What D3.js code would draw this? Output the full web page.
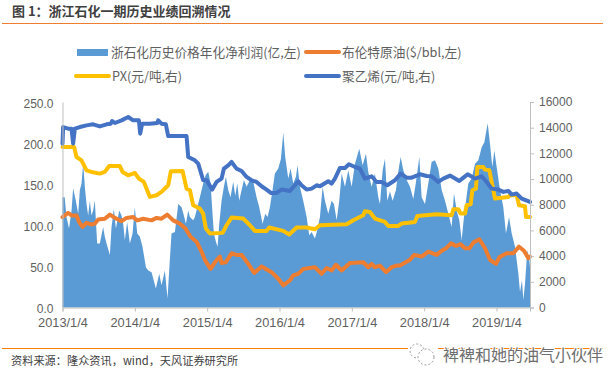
<!DOCTYPE html>
<html>
<head>
<meta charset="utf-8">
<script src="https://cdn.jsdelivr.net/npm/d3@7"></script>
<style>
  html, body { margin: 0; padding: 0; background: #fff; }
  text { font-family: "Liberation Sans", "Noto Sans CJK SC", sans-serif; }
  .cn { font-family: "Noto Sans CJK SC", sans-serif; }
</style>
</head>
<body>
<svg width="611" height="382"></svg>
<script>
// decimal years + values
const profitYears = [2013,2013.03,2013.055,2013.09,2013.125,2013.147,2013.184,2013.217,2013.24,2013.263,2013.286,2013.309,2013.332,2013.355,2013.378,2013.4,2013.424,2013.447,2013.479,2013.516,2013.539,2013.562,2013.585,2013.609,2013.655,2013.678,2013.71,2013.738,2013.784,2013.816,2013.839,2013.862,2013.894,2013.931,2013.968,2014,2014.033,2014.07,2014.106,2014.153,2014.185,2014.231,2014.291,2014.337,2014.369,2014.415,2014.452,2014.484,2014.507,2014.554,2014.6,2014.646,2014.678,2014.706,2014.738,2014.761,2014.807,2014.83,2014.853,2014.899,2014.945,2014.978,2015.015,2015.047,2015.074,2015.093,2015.121,2015.144,2015.167,2015.199,2015.231,2015.259,2015.291,2015.323,2015.36,2015.388,2015.416,2015.443,2015.476,2015.508,2015.545,2015.591,2015.637,2015.683,2015.72,2015.766,2015.803,2015.835,2015.867,2015.904,2015.936,2015.983,2016.02,2016.052,2016.079,2016.121,2016.153,2016.19,2016.227,2016.25,2016.282,2016.328,2016.375,2016.411,2016.444,2016.49,2016.522,2016.559,2016.596,2016.628,2016.674,2016.72,2016.753,2016.79,2016.826,2016.859,2016.905,2016.951,2016.997,2017.043,2017.103,2017.149,2017.195,2017.227,2017.273,2017.319,2017.366,2017.389,2017.426,2017.458,2017.49,2017.527,2017.564,2017.61,2017.642,2017.675,2017.712,2017.758,2017.804,2017.85,2017.887,2017.933,2017.965,2018.011,2018.057,2018.103,2018.149,2018.195,2018.242,2018.288,2018.334,2018.38,2018.412,2018.449,2018.486,2018.518,2018.555,2018.61,2018.656,2018.703,2018.749,2018.795,2018.832,2018.878,2018.91,2018.942,2018.97,2019.002,2019.048,2019.094,2019.131,2019.173,2019.21,2019.256,2019.302,2019.325,2019.352,2019.371,2019.394,2019.426,2019.454,2019.463];
const profitValues = [134,134,110,96,118,145,130,114,143,151,175,147,126,112,130,112,118,130,78,78,88,98,86,78,64,98,120,96,118,112,102,82,104,78,90,122,90,86,74,49,45,43,23,41,27,45,11,58,90,92,126,122,112,102,118,110,106,110,118,134,151,161,165,151,114,90,80,74,102,130,147,159,143,134,153,136,151,130,143,155,147,155,153,134,122,102,114,110,122,143,163,169,181,213,183,157,169,151,159,173,147,130,110,88,92,84,94,110,147,130,114,130,126,106,130,163,147,167,147,175,193,173,187,165,147,163,134,126,167,181,130,141,130,143,165,183,167,155,147,132,153,183,134,126,151,177,179,169,143,130,114,98,139,118,106,82,114,151,157,175,179,195,201,224,199,171,191,171,143,122,90,110,90,74,41,19,33,9,29,70,58,49];

const brentYears = [2013,2013.078,2013.125,2013.194,2013.23,2013.277,2013.332,2013.401,2013.447,2013.493,2013.585,2013.655,2013.724,2013.816,2013.885,2013.977,2014.033,2014.116,2014.231,2014.3,2014.369,2014.448,2014.53,2014.623,2014.701,2014.77,2014.853,2014.922,2014.968,2015.047,2015.107,2015.176,2015.199,2015.259,2015.337,2015.406,2015.476,2015.568,2015.651,2015.752,2015.89,2015.983,2016.052,2016.144,2016.19,2016.259,2016.328,2016.49,2016.582,2016.651,2016.72,2016.78,2016.859,2016.974,2017.158,2017.227,2017.273,2017.319,2017.389,2017.472,2017.55,2017.619,2017.665,2017.804,2017.859,2017.965,2018.057,2018.172,2018.242,2018.302,2018.371,2018.44,2018.504,2018.564,2018.624,2018.68,2018.763,2018.841,2018.91,2018.993,2019.039,2019.14,2019.233,2019.311,2019.38,2019.44,2019.463];
const brentValues = [110,115,112,112,104,98,103,101,102,107,108,113,109,105,109,110,106,108,106,109,108,113,106,102,96,86,80,68,58,47,55,62,54,55,66,64,64,53,42,50,43,35,27,33,39,41,47,49,41,48,45,52,45,54,55,49,53,49,51,43,49,51,51,58,64,62,68,64,69,72,78,75,77,72,72,79,83,72,58,53,61,66,66,74,69,60,62];

const pxYears = [2013,2013.161,2013.194,2013.263,2013.332,2013.401,2013.516,2013.585,2013.645,2013.793,2013.83,2013.908,2014,2014.056,2014.125,2014.208,2014.3,2014.369,2014.461,2014.498,2014.66,2014.715,2014.761,2014.807,2014.899,2014.945,2014.982,2015.038,2015.213,2015.268,2015.337,2015.499,2015.591,2015.66,2015.821,2015.858,2016.052,2016.135,2016.236,2016.375,2016.49,2016.559,2016.928,2017.02,2017.158,2017.181,2017.25,2017.319,2017.458,2017.504,2017.642,2017.688,2017.873,2017.905,2018.172,2018.38,2018.403,2018.472,2018.504,2018.564,2018.587,2018.643,2018.666,2018.716,2018.735,2018.818,2018.841,2018.901,2018.947,2018.979,2019.164,2019.187,2019.279,2019.311,2019.394,2019.408,2019.463];
const pxValues = [12500,12500,11720,11460,10680,10555,10425,10555,11020,11020,10555,10295,10475,10035,9775,8610,8740,9000,9515,10605,10630,9255,9125,7960,7700,7310,6145,5755,5810,6405,7000,6925,6405,5965,5965,6225,5965,5680,6225,6225,6095,6405,6480,6795,7180,7495,7440,6925,6665,6350,6350,6535,6665,7130,7260,7180,7650,7650,7310,7310,7960,8040,9125,9255,10940,10940,10735,10680,9385,8480,8610,8740,8740,7960,7880,7050,7050];

const peYears = [2013,2013.009,2013.078,2013.125,2013.147,2013.171,2013.24,2013.332,2013.424,2013.516,2013.609,2013.668,2013.687,2013.724,2013.816,2013.908,2013.977,2014.056,2014.074,2014.102,2014.208,2014.309,2014.323,2014.369,2014.429,2014.461,2014.715,2014.738,2014.83,2014.876,2014.945,2014.992,2015.07,2015.13,2015.199,2015.231,2015.291,2015.337,2015.406,2015.476,2015.545,2015.614,2015.683,2015.752,2015.821,2015.881,2015.96,2016.029,2016.144,2016.213,2016.259,2016.305,2016.375,2016.444,2016.513,2016.559,2016.674,2016.72,2016.766,2016.836,2016.905,2016.96,2017.043,2017.112,2017.181,2017.273,2017.342,2017.412,2017.49,2017.596,2017.675,2017.758,2017.827,2017.942,2018.034,2018.103,2018.195,2018.265,2018.357,2018.486,2018.601,2018.703,2018.795,2018.864,2018.933,2019.025,2019.094,2019.164,2019.21,2019.279,2019.348,2019.463];
const peValues = [12760,14050,13920,13920,12760,13920,14050,14180,14260,14100,14260,14310,14520,14365,14570,14830,14570,14570,13535,14310,14310,14365,14570,14310,14260,13350,13350,11720,11460,11200,9905,9905,9180,9775,10035,10810,11070,11330,10810,10630,10165,9905,9775,9440,9180,8920,8920,9180,9075,9515,9830,9515,9180,9255,9515,9440,9830,9645,10035,10865,10865,11150,10940,10810,10035,10215,9775,9775,9515,9905,10425,10110,10110,10370,10240,10215,9775,10035,10270,9855,10370,10035,10215,9775,9255,9180,9000,9075,8790,8870,8480,8220];

const xTickYears = [2013,2014,2015,2016,2017,2018,2019];
const xTickLabels = ["2013/1/4","2014/1/4","2015/1/4","2016/1/4","2017/1/4","2018/1/4","2019/1/4"];
const leftTicks = [0,50,100,150,200,250];
const rightTicks = [0,2000,4000,6000,8000,10000,12000,14000,16000];
const seriesNames = ["浙石化历史价格年化净利润(亿,左)","布伦特原油($/bbl,左)","PX(元/吨,右)","聚乙烯(元/吨,右)"];

const blue = "#5b9bd5", orange = "#ed7d31", yellow = "#ffc000", navy = "#4472c4";
const grey = "#5f5f5f", axisGrey = "#bfbfbf";

const svg = d3.select("svg");
const margin = { top: 102, right: 81, bottom: 74.5, left: 62.5 };
const width = +svg.attr("width") - margin.left - margin.right;
const height = +svg.attr("height") - margin.top - margin.bottom;
const g = svg.append("g").attr("transform", `translate(${margin.left},${margin.top})`);

const x = d3.scaleLinear().domain([2013, 2019.463]).range([0, width]);
const yL = d3.scaleLinear().domain([0, 250]).range([height, 0]);
const yR = d3.scaleLinear().domain([0, 16000]).range([height, 0]);

const area = d3.area()
  .x(d => x(d[0]))
  .y0(height)
  .y1(d => yL(d[1]));

g.append("path")
  .datum(d3.zip(profitYears, profitValues))
  .attr("d", area)
  .attr("fill", blue);

function drawLine(years, values, scale, color) {
  const line = d3.line().x(d => x(d[0])).y(d => scale(d[1]));
  g.append("path")
    .datum(d3.zip(years, values))
    .attr("d", line)
    .attr("fill", "none")
    .attr("stroke", color)
    .attr("stroke-width", 4)
    .attr("stroke-linejoin", "round")
    .attr("stroke-linecap", "round");
}
drawLine(brentYears, brentValues, yL, orange);
drawLine(pxYears, pxValues, yR, yellow);
drawLine(peYears, peValues, yR, navy);

// axes
const xAxis = g.append("g")
  .attr("transform", `translate(0,${height})`)
  .call(d3.axisBottom(x)
    .tickValues(xTickYears)
    .tickFormat((d, i) => xTickLabels[i])
    .tickSize(4)
    .tickPadding(6));

const leftAxis = g.append("g")
  .call(d3.axisLeft(yL)
    .tickValues(leftTicks)
    .tickFormat(d3.format(".1f"))
    .tickSize(0)
    .tickPadding(9));

const rightAxis = g.append("g")
  .attr("transform", `translate(${width},0)`)
  .call(d3.axisRight(yR)
    .tickValues(rightTicks)
    .tickFormat(d => d)
    .tickSize(4)
    .tickPadding(5));

[leftAxis, rightAxis, xAxis].forEach((a, i) => {
  a.selectAll("path,line").attr("stroke", axisGrey);
  a.selectAll("text")
    .attr("fill", grey)
    .style("font-size", i === 2 ? "12.8px" : "12px")
    .style("font-family", "'Liberation Sans', sans-serif");
});
leftAxis.selectAll("text").attr("dy", "0.45em");

// legend
const legendRows = [
  { sx: 77, sw: 31, tx: 111, y: 52, color: blue, rect: true },
  { sx: 306, sw: 33, tx: 342, y: 52, color: orange },
  { sx: 76, sw: 33, tx: 112, y: 76, color: yellow },
  { sx: 306, sw: 33, tx: 342, y: 76, color: navy }
];
legendRows.forEach((r, i) => {
  if (r.rect) {
    svg.append("rect").attr("x", r.sx).attr("y", r.y - 3).attr("width", r.sw).attr("height", 7).attr("fill", r.color);
  } else {
    svg.append("line").attr("x1", r.sx).attr("x2", r.sx + r.sw).attr("y1", r.y).attr("y2", r.y)
      .attr("stroke", r.color).attr("stroke-width", 4).attr("stroke-linecap", "round");
  }
  svg.append("text").attr("class", "cn").attr("x", r.tx).attr("y", r.y + 4.5)
    .attr("fill", grey).style("font-size", "12.7px").text(seriesNames[i]);
});

// title, rules, source
svg.append("text").attr("class", "cn").attr("x", 12).attr("y", 15.5)
  .attr("fill", "#404040").attr("font-weight", "bold").style("font-size", "13px")
  .text("图 1：浙江石化一期历史业绩回溯情况");
svg.append("line").attr("x1", 2).attr("x2", 603).attr("y1", 23.5).attr("y2", 23.5).attr("stroke", "#ed7d31");
svg.append("line").attr("x1", 2).attr("x2", 603).attr("y1", 348.5).attr("y2", 348.5).attr("stroke", "#ff8000");
svg.append("text").attr("class", "cn").attr("x", 11).attr("y", 365)
  .attr("fill", "#404040").style("font-size", "11.2px")
  .text("资料来源：隆众资讯，wind，天风证券研究所");

// watermark, sits over the lower rule
const wm = svg.append("g");
wm.append("rect").attr("x", 408).attr("y", 344).attr("width", 30).attr("height", 22).attr("fill", "#fff");
wm.append("circle").attr("cx", 417).attr("cy", 351).attr("r", 7);
wm.append("circle").attr("cx", 426).attr("cy", 357).attr("r", 8);
wm.selectAll("circle").attr("fill", "#fff").attr("stroke", "#9a9a9a").attr("stroke-dasharray", "2 2");
wm.append("text").attr("class", "cn").attr("x", 443).attr("y", 361)
  .attr("fill", "#6e6e6e")
  .attr("stroke", "#fff").attr("stroke-width", 2).attr("paint-order", "stroke")
  .style("font-size", "16px")
  .text("裨裨和她的油气小伙伴");
</script>
</body>
</html>
